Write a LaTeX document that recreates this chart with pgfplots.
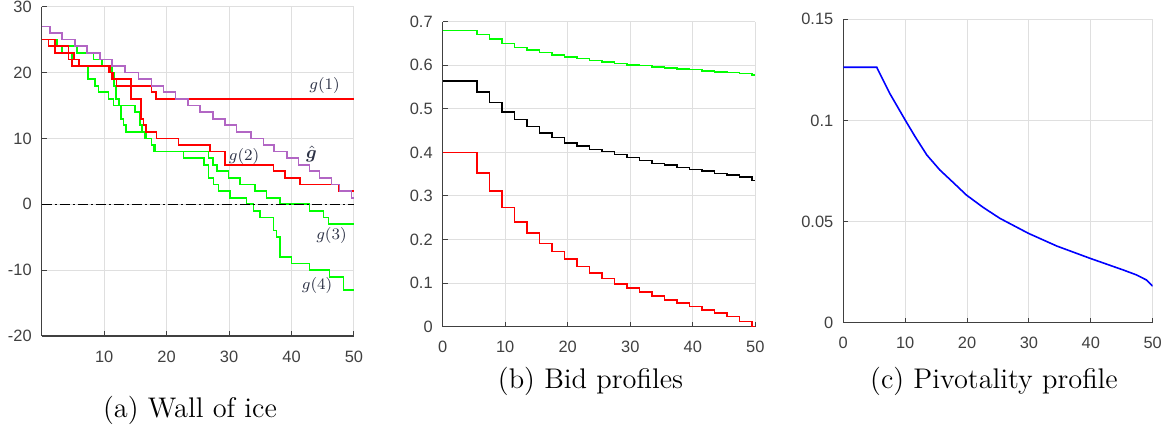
\documentclass[border=0pt]{standalone}
\usepackage{pgfplots}
\pgfplotsset{compat=1.18}
\usepackage{fontspec}
\usepackage{bm}
\newfontfamily\tickfont{Liberation Sans}
\definecolor{axgray}{RGB}{64,64,64}
\definecolor{gridgray}{RGB}{223,223,223}
\definecolor{hatpurple}{RGB}{178,102,196}
\definecolor{labelc}{RGB}{45,50,70}
\definecolor{mgreen}{RGB}{0,255,0}
\definecolor{mred}{RGB}{255,0,0}
\definecolor{mblue}{RGB}{0,0,255}
\newcommand{\tf}{\tickfont\fontsize{8.2}{9.8}\selectfont}
\pgfplotsset{
  matstyle/.style={
    scale only axis,
    axis x line*=bottom, axis y line*=left,
    axis line style={draw=axgray, line width=0.6pt, -},
    grid=major, grid style={draw=gridgray, line width=0.5pt},
    tick align=inside, major tick length=2.5pt,
    tick style={draw=axgray, line width=0.5pt},
    xticklabel style={font=\tf, text=axgray, yshift=-3.8pt},
    yticklabel style={font=\tf, text=axgray, xshift=-1.5pt},
  }
}
\begin{document}
\begin{tikzpicture}
\path[use as bounding box] (0,0) rectangle (586.5pt,216pt);

% ---------------- (a) Wall of ice ----------------
\begin{axis}[matstyle,
  at={(20.85pt,48pt)}, anchor=south west,
  width=156.15pt, height=164.65pt,
  xmin=0, xmax=50, ymin=-20, ymax=30,
  xtick={10,20,30,40,50}, xticklabels={10,20,30,40,50},
  ytick={-20,-10,0,10,20,30}, yticklabels={-20,-10,0,10,20,30},
  const plot]
\addplot[mgreen, line width=0.85pt] coordinates {
(0,25)(2.4,24)(5.6,23)(8.3,22)(9.7,21)(11.3,20)(11.6,18)(11.9,16)(12.4,15)(14.9,14)(15.7,12)(16.1,11)(16.5,10)(17.6,9)(18.1,8)(26.7,7)(27.4,6)(28.1,5)(29.9,4)(31.7,3)(34.1,2)(36,1)(38.1,0)(42.9,-1)(45.1,-2)(45.9,-3)(50,-3)};
\addplot[mgreen, line width=0.85pt] coordinates {
(0,25)(1.1,24)(3.2,23)(4.8,21)(7.4,19)(8.5,18)(9.1,17)(10.7,16)(11.5,15)(12.7,13)(13.1,12)(13.5,11)(16.7,10)(17.6,9)(18,8)(22.7,7)(26,6)(26.7,4)(27.5,3)(28.3,2)(30.1,1)(32.8,0)(33.9,-1)(34.9,-2)(37.1,-4)(37.6,-5)(38.2,-8)(40,-9)(42.9,-10)(46.1,-11)(48.3,-13)(50,-13)};
\addplot[mred, line width=0.85pt] coordinates {
(0,25)(1.1,24)(4.3,23)(5.2,22)(6,21)(10.7,20)(11.5,19)(12,18)(17.6,17)(18.3,16)(50,16)};
\addplot[mred, line width=0.85pt] coordinates {
(0,25)(2.1,23)(4.3,22)(4.8,21)(10.9,20)(11.2,19)(14.3,16)(15.9,13)(16.3,12)(16.7,11)(18.4,10)(21.9,9)(27,8)(29.3,6)(37.1,5)(38.9,4)(41.4,3)(47.5,2)(50,2)};
\addplot[hatpurple, line width=0.85pt] coordinates {
(0,27)(1.3,26)(3.2,25)(5.3,24)(7.3,23)(9.3,22)(11.3,21)(13.3,20)(15.5,19)(17.6,18)(19.5,17)(21.4,16)(23.4,15)(25.3,14)(27.4,13)(29.3,12)(31.2,11)(33.5,10)(35.5,9)(37.2,8)(39.3,7)(41.1,6)(42.9,5)(44.5,4)(46.4,3)(47.7,2)(49.6,1)(50,1)};
\addplot[black, line width=0.6pt, dash pattern=on 5pt off 1.5pt on 1pt off 1.5pt] coordinates {(0,0)(50,0)};
\node[text=labelc, font=\fontsize{7.7}{9}\selectfont] at (axis cs:45.3,18) {$g(1)$};
\node[text=labelc, font=\fontsize{7.7}{9}\selectfont] at (axis cs:32.4,7.2) {$g(2)$};
\node[text=labelc, font=\fontsize{9.5}{11}\selectfont] at (axis cs:43.2,7.6) {$\hat{\bm g}$};
\node[text=labelc, font=\fontsize{7.7}{9}\selectfont] at (axis cs:46.4,-4.8) {$g(3)$};
\node[text=labelc, font=\fontsize{7.7}{9}\selectfont] at (axis cs:44.1,-12.4) {$g(4)$};
\end{axis}

% ---------------- (b) Bid profiles ----------------
\begin{axis}[matstyle,
  at={(221.35pt,52.65pt)}, anchor=south west,
  width=156.3pt, height=152.5pt,
  xmin=0, xmax=50, ymin=0, ymax=0.7,
  xtick={0,10,20,30,40,50}, xticklabels={0,10,20,30,40,50},
  ytick={0,0.1,0.2,0.3,0.4,0.5,0.6,0.7}, yticklabels={0,0.1,0.2,0.3,0.4,0.5,0.6,0.7},
  const plot]
\addplot[mgreen, line width=0.75pt] coordinates {
(0,0.680)(5.5,0.671)(7.5,0.660)(9.5,0.650)(11.5,0.641)(13.5,0.635)(15.5,0.629)(17.5,0.623)(19.5,0.619)(21.5,0.615)(23.5,0.611)(25.5,0.607)(27.5,0.604)(29.5,0.601)(31.5,0.599)(33.5,0.596)(35.5,0.594)(37.5,0.592)(39.5,0.590)(41.5,0.587)(43.5,0.585)(45.5,0.583)(47.5,0.581)(49.5,0.578)(50,0.578)};
\addplot[black, line width=0.75pt] coordinates {
(0,0.564)(5.5,0.539)(7.5,0.515)(9.5,0.493)(11.5,0.475)(13.5,0.459)(15.5,0.444)(17.5,0.434)(19.5,0.422)(21.5,0.415)(23.5,0.407)(25.5,0.402)(27.5,0.395)(29.5,0.388)(31.5,0.381)(33.5,0.375)(35.5,0.371)(37.5,0.365)(39.5,0.361)(41.5,0.357)(43.5,0.352)(45.5,0.348)(47.5,0.343)(49.5,0.335)(50,0.335)};
\addplot[mred, line width=0.75pt] coordinates {
(0,0.400)(5.5,0.353)(7.5,0.311)(9.5,0.273)(11.5,0.240)(13.5,0.215)(15.5,0.191)(17.5,0.173)(19.5,0.155)(21.5,0.138)(23.5,0.123)(25.5,0.111)(27.5,0.098)(29.5,0.089)(31.5,0.080)(33.5,0.070)(35.5,0.061)(37.5,0.054)(39.5,0.046)(41.5,0.038)(43.5,0.031)(45.5,0.023)(47.5,0.012)(49.5,0.0)(50,0.0)};
\end{axis}

% ---------------- (c) Pivotality profile ----------------
\begin{axis}[matstyle,
  at={(421.65pt,54.65pt)}, anchor=south west,
  width=154.7pt, height=151.7pt,
  xmin=0, xmax=50, ymin=0, ymax=0.15,
  xtick={0,10,20,30,40,50}, xticklabels={0,10,20,30,40,50},
  ytick={0,0.05,0.1,0.15}, yticklabels={0,0.05,0.1,0.15}]
\addplot[mblue, line width=0.8pt] coordinates {
(0,0.1263)(5.4,0.1263)(7.5,0.1134)(10,0.1002)(11.6,0.0920)(13.5,0.0829)(15.6,0.0755)(17.8,0.0692)(19.9,0.0631)(22.6,0.0570)(25.3,0.0516)(29.9,0.0442)(34.5,0.0379)(39.9,0.0318)(45.3,0.0260)(47.4,0.0236)(49,0.0211)(50,0.0181)};
\end{axis}

% captions
\node[anchor=base, font=\fontsize{14.2}{17}\selectfont] at (95pt,7pt) {(a) Wall of ice};
\node[anchor=base, font=\fontsize{14.2}{17}\selectfont] at (295.25pt,21.75pt) {(b) Bid profiles};
\node[anchor=base, font=\fontsize{14.2}{17}\selectfont] at (497pt,21.75pt) {(c) Pivotality profile};
\end{tikzpicture}
\end{document}
